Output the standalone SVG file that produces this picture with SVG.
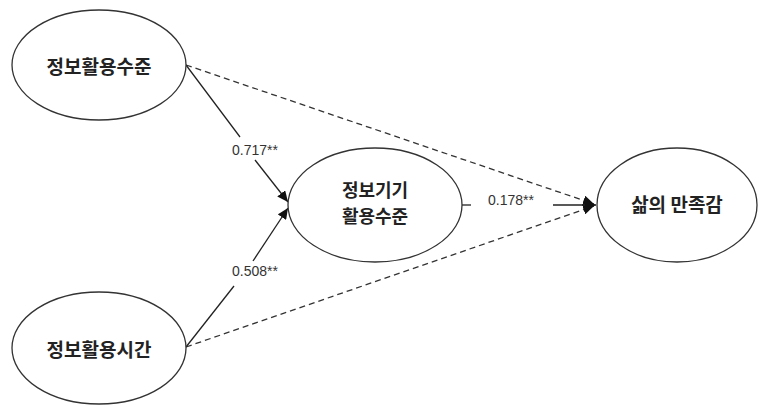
<svg xmlns="http://www.w3.org/2000/svg" width="760" height="407" viewBox="0 0 760 407">
<style>
.node ellipse{fill:#fff;stroke:#333;stroke-width:1.3}
.node text{font-family:"Noto Sans CJK KR","Noto Sans",sans-serif;font-size:19px;font-weight:bold;fill:#222;text-anchor:middle;dominant-baseline:central}
.node text.two{font-size:18px}
.lbl{font-family:"Liberation Sans","Noto Sans",sans-serif;font-size:14px;fill:#333;text-anchor:middle;dominant-baseline:central}
.solid{stroke:#222;stroke-width:1.3;fill:none}
.dash{stroke:#333;stroke-width:1.3;fill:none;stroke-dasharray:6 4}
</style>
<defs>
<marker id="arr" markerUnits="userSpaceOnUse" markerWidth="12" markerHeight="10" refX="11" refY="5" orient="auto">
<path d="M0,0 L11,5 L0,10 Z" fill="#111"/>
</marker>
</defs>
<rect width="760" height="407" fill="#fff"/>
<g id="connectors">
<line class="dash" x1="186" y1="65" x2="594" y2="204" marker-end="url(#arr)"/>
<line class="dash" x1="186" y1="347" x2="594" y2="206" marker-end="url(#arr)"/>
<line class="solid" x1="186" y1="65" x2="240" y2="137"/>
<line class="solid" x1="255" y1="160" x2="288" y2="202" marker-end="url(#arr)"/>
<line class="solid" x1="186" y1="347" x2="234" y2="286"/>
<line class="solid" x1="253" y1="261" x2="288" y2="208" marker-end="url(#arr)"/>
<line class="solid" x1="462" y1="205" x2="471" y2="205"/>
<line class="solid" x1="553" y1="205" x2="596" y2="205" marker-end="url(#arr)"/>
<text class="lbl" x="255" y="150">0.717**</text>
<text class="lbl" x="255" y="271">0.508**</text>
<text class="lbl" x="511" y="200">0.178**</text>
</g>
<g id="n1" class="node"><ellipse cx="99" cy="65" rx="87" ry="55"/><text x="99" y="65">정보활용수준</text></g>
<g id="n2" class="node"><ellipse cx="99" cy="348" rx="87" ry="56"/><text x="99" y="348">정보활용시간</text></g>
<g id="n3" class="node"><ellipse cx="375" cy="205" rx="87" ry="57"/><text class="two" x="375" y="189">정보기기</text><text class="two" x="375" y="215">활용수준</text></g>
<g id="n4" class="node"><ellipse cx="677" cy="205" rx="80" ry="57"/><text x="677" y="203">삶의 만족감</text></g>
</svg>
